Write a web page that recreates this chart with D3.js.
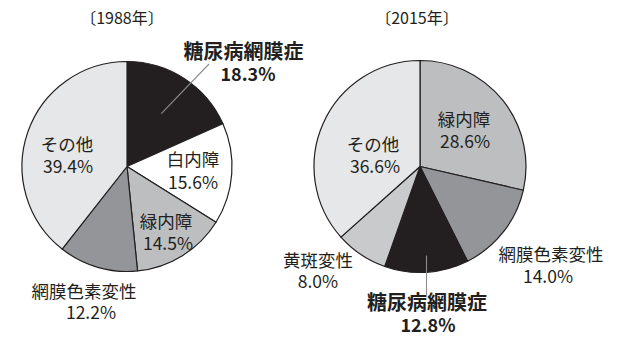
<!DOCTYPE html>
<html><head><meta charset="utf-8">
<script src="https://cdn.jsdelivr.net/npm/d3@7"></script>
<style>
html,body{margin:0;padding:0;background:#fff;}
svg{display:block;}
text{font-family:"Noto Sans CJK JP","Noto Sans",sans-serif;fill:#231f20;}
</style></head>
<body>
<svg id="chart" width="617" height="339"></svg>
<script>
// ---- data ----
const years = ["〔1988年〕", "〔2015年〕"];
const categories1988 = ["糖尿病網膜症", "白内障", "緑内障", "網膜色素変性", "その他"];
const values1988 = [18.3, 15.6, 14.5, 12.2, 39.4];
const categories2015 = ["緑内障", "網膜色素変性", "糖尿病網膜症", "黄斑変性", "その他"];
const values2015 = [28.6, 14.0, 12.8, 8.0, 36.6];

// ---- styles / layout ----
const colorMap = {
  "糖尿病網膜症": "#231f20",
  "白内障": "#ffffff",
  "緑内障": "#bcbec0",
  "網膜色素変性": "#939598",
  "黄斑変性": "#c9cacc",
  "その他": "#e6e7e8"
};
const boldCat = "糖尿病網膜症";
const charts = [
  { title: years[0], cats: categories1988, vals: values1988, cx: 127, cy: 166.5, r: 105, titleX: 122, titleY: 24,
    labels: [
      {x1: 243.5, y1: 59, x2: 248, y2: 81},
      {x1: 193, y1: 166, x2: 193, y2: 189},
      {x1: 166, y1: 228, x2: 168, y2: 250},
      {x1: 84, y1: 298, x2: 91, y2: 319},
      {x1: 67, y1: 151, x2: 68, y2: 173}
    ],
    leader: {cat: 0, x2: 209, y2: 64, rf: 0.6}
  },
  { title: years[1], cats: categories2015, vals: values2015, cx: 420, cy: 166.5, r: 106, titleX: 417, titleY: 24,
    labels: [
      {x1: 464, y1: 126, x2: 465, y2: 148},
      {x1: 551, y1: 261, x2: 548, y2: 283},
      {x1: 427, y1: 310, x2: 428, y2: 332},
      {x1: 318, y1: 267, x2: 318, y2: 288},
      {x1: 373, y1: 151, x2: 375, y2: 173}
    ],
    leader: {cat: 2, x2: 426.5, y2: 295, rf: 0.84}
  }
];

const svg = d3.select("#chart");
const pie = d3.pie().sort(null).value(d => d.v);

charts.forEach((c, ci) => {
  const data = c.cats.map((k, i) => ({k, v: c.vals[i]}));
  const arcs = pie(data);
  const arc = d3.arc().innerRadius(0).outerRadius(c.r);
  const g = svg.append("g").attr("transform", `translate(${c.cx},${c.cy})`);
  g.selectAll("path").data(arcs).join("path")
    .attr("d", arc)
    .attr("fill", d => colorMap[d.data.k])
    .attr("stroke", "#231f20")
    .attr("stroke-width", 1.2)
    .attr("stroke-linejoin", "round");

  // leader line
  const la = arcs[c.leader.cat];
  const mid = (la.startAngle + la.endAngle) / 2;
  let sx, sy;
  if (ci === 1) {
    sx = c.leader.x2; sy = c.cy + c.r * c.leader.rf;
  } else {
    sx = c.cx + Math.sin(mid) * c.r * c.leader.rf;
    sy = c.cy - Math.cos(mid) * c.r * c.leader.rf;
  }
  svg.append("line")
    .attr("x1", sx).attr("y1", sy)
    .attr("x2", c.leader.x2).attr("y2", c.leader.y2)
    .attr("stroke", "#8a8c8e").attr("stroke-width", 1.1);

  // title
  svg.append("text").attr("x", c.titleX).attr("y", c.titleY)
    .attr("text-anchor", "middle").attr("font-size", 16).text(c.title);

  // labels
  data.forEach((d, i) => {
    const L = c.labels[i];
    const bold = d.k === boldCat;
    svg.append("text").attr("x", L.x1).attr("y", L.y1)
      .attr("text-anchor", "middle")
      .attr("font-size", bold ? 20 : 17.5)
      .attr("font-weight", bold ? "bold" : "normal")
      .text(d.k);
    svg.append("text").attr("x", L.x2).attr("y", L.y2)
      .attr("text-anchor", "middle")
      .attr("font-size", bold ? 18 : 17.5)
      .attr("font-weight", bold ? "bold" : "normal")
      .text(d3.format(".1f")(d.v) + "%");
  });
});
</script>
</body></html>
